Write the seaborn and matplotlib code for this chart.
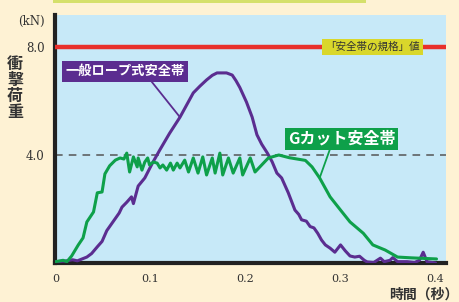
import matplotlib
matplotlib.use("Agg")
import matplotlib.pyplot as plt
import seaborn as sns
import pandas as pd
from matplotlib.patches import Rectangle

# ---- data ----
rope_t = [0.000, 0.010, 0.018, 0.023, 0.028, 0.033, 0.038, 0.044, 0.049, 0.054, 0.058, 0.063,
          0.067, 0.070, 0.075, 0.080, 0.082, 0.087, 0.094, 0.102, 0.110, 0.120, 0.131, 0.138,
          0.145, 0.152, 0.159, 0.165, 0.170, 0.180, 0.186, 0.190, 0.194, 0.201, 0.207, 0.212,
          0.217, 0.223, 0.228, 0.233, 0.238, 0.245, 0.252, 0.256, 0.259, 0.264, 0.268, 0.272,
          0.276, 0.280, 0.284, 0.289, 0.294, 0.300, 0.305, 0.310, 0.315, 0.320, 0.325, 0.328,
          0.335, 0.342, 0.346, 0.352, 0.355, 0.360, 0.370, 0.378, 0.383, 0.387, 0.391, 0.400]
rope_v = [0.05, 0.07, 0.12, 0.08, 0.15, 0.22, 0.35, 0.60, 0.80, 1.20, 1.40, 1.65,
          1.85, 2.07, 2.25, 2.45, 2.20, 2.85, 3.15, 3.70, 4.20, 4.80, 5.40, 5.85,
          6.30, 6.55, 6.78, 6.95, 7.04, 7.04, 6.96, 6.75, 6.50, 5.96, 5.40, 4.75,
          4.40, 4.07, 3.75, 3.33, 3.15, 2.60, 1.96, 1.80, 1.60, 1.55, 1.35, 1.30,
          1.10, 0.85, 0.67, 0.55, 0.40, 0.67, 0.45, 0.26, 0.22, 0.25, 0.10, 0.04,
          0.02, 0.18, 0.05, 0.10, 0.20, 0.05, 0.05, 0.02, 0.10, 0.40, 0.05, 0.00]

gcut_t = [0.000, 0.008, 0.012, 0.017, 0.024, 0.029, 0.033, 0.040, 0.044, 0.049, 0.052, 0.057,
          0.063, 0.068, 0.072, 0.075, 0.078, 0.082, 0.086, 0.087, 0.091, 0.094, 0.097, 0.099,
          0.103, 0.107, 0.110, 0.113, 0.117, 0.121, 0.124, 0.128, 0.131, 0.136, 0.140, 0.145,
          0.150, 0.155, 0.159, 0.165, 0.168, 0.173, 0.176, 0.182, 0.187, 0.194, 0.197, 0.205,
          0.210, 0.217, 0.224, 0.235, 0.246, 0.263, 0.270, 0.278, 0.289, 0.300, 0.310, 0.324,
          0.334, 0.347, 0.360, 0.375, 0.401]
gcut_v = [0.05, 0.10, 0.05, 0.26, 0.67, 0.93, 1.52, 1.89, 2.60, 2.63, 3.30, 3.60,
          3.81, 3.89, 3.85, 4.07, 3.37, 3.93, 3.56, 3.89, 3.44, 3.74, 3.89, 3.63,
          3.74, 3.70, 3.52, 3.63, 3.44, 3.70, 3.44, 3.70, 3.52, 3.81, 3.37, 3.89,
          3.33, 3.93, 3.26, 3.89, 3.33, 4.07, 3.26, 3.89, 3.33, 3.89, 3.26, 3.89,
          3.37, 3.63, 3.89, 4.00, 3.90, 3.80, 3.56, 3.15, 2.45, 1.96, 1.52, 1.10,
          0.67, 0.48, 0.22, 0.19, 0.15]

x_ticks = [0, 0.1, 0.2, 0.3, 0.4]
x_tick_labels = ["0", "0.1", "0.2", "0.3", "0.4"]
y_ticks = [0, 1, 2, 3, 4, 5, 6, 7, 8, 9]
y_tick_labels = ["", "", "", "", "4.0", "", "", "", "8.0", "(kN)"]
standard_value = 8.0
reference_value = 4.0

rope_label = "一般ロープ式安全帯"
gcut_label = "Gカット安全帯"
standard_label = "「安全帯の規格」値"
y_label = "衝撃荷重"
x_label = "時間（秒）"

df = pd.concat([
    pd.DataFrame({"t": rope_t, "v": rope_v, "s": rope_label}),
    pd.DataFrame({"t": gcut_t, "v": gcut_v, "s": gcut_label}),
])

# ---- style ----
sns.set_style("white")
plt.rcParams["font.family"] = ["Noto Sans CJK JP", "DejaVu Sans"]

cream = "#FEF2D4"
blue = "#C7E9F8"
purple = "#5B2D90"
green = "#0EA04A"
red = "#E8302B"

fig = plt.figure(figsize=(4.6, 3.02), dpi=100, facecolor=cream)
ax = fig.add_axes([55.5 / 460, 1 - 263 / 302, (446 - 55.5) / 460, (263 - 15) / 302])
ax.set_facecolor(blue)

sns.lineplot(data=df, x="t", y="v", hue="s", palette={rope_label: purple, gcut_label: green},
             linewidth=2.2, legend=False, ax=ax, sort=False, estimator=None, zorder=4)

ax.axhline(standard_value, color=red, lw=3.2, zorder=3)
ax.axhline(reference_value, color="#555555", lw=1.1, ls=(0, (5, 4)), zorder=2)

ax.set_xlim(0, 0.411)
ax.set_ylim(0, 9.185)
ax.set_xticks(x_ticks)
ax.set_xticklabels(x_tick_labels, family=["DejaVu Serif"], fontsize=8, color="#333333")
ax.set_yticks(y_ticks)
ax.set_yticklabels(y_tick_labels, family=["DejaVu Serif"], fontsize=8.5, color="#333333")
ax.tick_params(axis="both", direction="out", length=6, width=2.2, color="#222222", pad=2)
ax.set_xlabel("")
ax.set_ylabel("")
for side in ["top", "right"]:
    ax.spines[side].set_visible(False)
for side in ["left", "bottom"]:
    ax.spines[side].set_linewidth(3)
    ax.spines[side].set_color("#222222")

# y label stacked
fig.text(15 / 460, 1 - 88 / 302, "\n".join(y_label), ha="center", va="center",
         fontsize=11.5, fontweight="bold", color="#333333", linespacing=1.0)
fig.text(459 / 460, 1 - 295 / 302, x_label, ha="right", va="center",
         fontsize=10, fontweight="bold", color="#333333")

# top decoration bar
fig.patches.append(Rectangle((53 / 460, 1 - 3 / 302), (366 - 53) / 460, 3 / 302,
                             transform=fig.transFigure, facecolor="#D5E06B", edgecolor="none"))

# annotations
ax.annotate(rope_label, xy=(0.131, 5.40), xytext=(0.0105, 7.1),
            fontsize=9.5, fontweight="bold", color="white", ha="left", va="center",
            bbox=dict(boxstyle="square,pad=0.25", fc=purple, ec="none"),
            arrowprops=dict(arrowstyle="-", color=purple, lw=1.3, shrinkA=0, shrinkB=0,
                            relpos=(0.7, 0.0)), zorder=6)
ax.annotate(gcut_label, xy=(0.278, 3.15), xytext=(0.2445, 4.6),
            fontsize=11.5, fontweight="bold", color="white", ha="left", va="center",
            bbox=dict(boxstyle="square,pad=0.2", fc=green, ec="none"),
            arrowprops=dict(arrowstyle="-", color=green, lw=1.3, shrinkA=0, shrinkB=0,
                            relpos=(0.4, 0.0)), zorder=6)
ax.text(0.2835, standard_value, standard_label, fontsize=7.6, color="#333333",
        ha="left", va="center",
        bbox=dict(boxstyle="square,pad=0.3", fc="#D9D72B", ec="none"), zorder=6)

fig.savefig("out.png", dpi=100, facecolor=cream)
